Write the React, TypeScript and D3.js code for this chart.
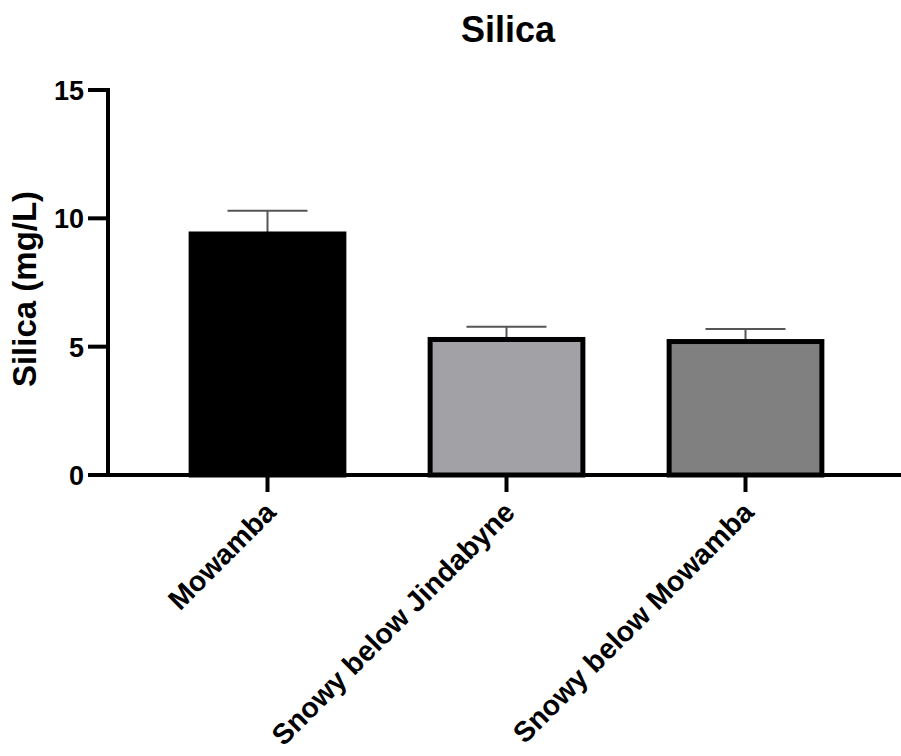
import React from "react";
import * as d3 from "d3";

const categories = ["Mowamba", "Snowy below Jindabyne", "Snowy below Mowamba"];
const means = [9.39, 5.28, 5.2];
const sds = [0.91, 0.5, 0.49];
const fills = ["#000000", "#a2a2a6", "#808080"];
const yTicks = [0, 5, 10, 15];

const W = 901;
const H = 756;
const FONT = "Arial, 'Liberation Sans', Helvetica, sans-serif";

export default function App() {
  const y = d3.scaleLinear().domain([0, 15]).range([475, 90]);
  const x = d3
    .scaleBand<string>()
    .domain(categories)
    .range([148, 865])
    .paddingInner(0.34)
    .paddingOuter(0.17);
  const bw = x.bandwidth();
  const sw = 5;
  const capW = 80;
  const axisX = 108;
  const axisY = y(0);

  return (
    <svg
      width={W}
      height={H}
      style={{ position: "absolute", left: 0, top: 0, background: "#fff" }}
      fontFamily={FONT}
    >
      <rect x={0} y={0} width={W} height={H} fill="#fff" />
      {/* title */}
      <text x={508} y={42} textAnchor="middle" fontSize={36} fontWeight="bold" fill="#000">
        Silica
      </text>
      {/* y title */}
      <text
        transform={`translate(36, 289) rotate(-90)`}
        textAnchor="middle"
        fontSize={33}
        fontWeight="bold"
        fill="#000"
      >
        Silica (mg/L)
      </text>

      {/* bars */}
      {categories.map((c, i) => {
        const x0 = x(c)!;
        const top = y(means[i]);
        const errTop = y(means[i] + sds[i]);
        const cx = x0 + bw / 2;
        return (
          <g key={c}>
            <line x1={cx} x2={cx} y1={top} y2={errTop} stroke="#555" strokeWidth={2} />
            <line x1={cx - capW / 2} x2={cx + capW / 2} y1={errTop} y2={errTop} stroke="#555" strokeWidth={2} />
            <rect
              x={x0 + sw / 2}
              y={top}
              width={bw - sw}
              height={axisY - top}
              fill={fills[i]}
              stroke="#000"
              strokeWidth={sw}
            />
          </g>
        );
      })}

      {/* y axis */}
      <line x1={axisX} x2={axisX} y1={y(15) - 2} y2={axisY + 2} stroke="#000" strokeWidth={4} />
      {yTicks.map((t) => (
        <g key={t}>
          <line x1={88} x2={axisX} y1={y(t)} y2={y(t)} stroke="#000" strokeWidth={4} />
          <text x={84} y={y(t) + 10} textAnchor="end" fontSize={27} fontWeight="bold" fill="#000">
            {t}
          </text>
        </g>
      ))}

      {/* x axis */}
      <line x1={axisX - 2} x2={W} y1={axisY} y2={axisY} stroke="#000" strokeWidth={4} />
      {categories.map((c) => {
        const cx = x(c)! + bw / 2;
        return (
          <g key={c}>
            <line x1={cx} x2={cx} y1={axisY} y2={492} stroke="#000" strokeWidth={4} />
            <text
              transform={`translate(${cx + 10}, 514) rotate(-45)`}
              textAnchor="end"
              fontSize={28.5}
              fontWeight="bold"
              fill="#000"
            >
              {c}
            </text>
          </g>
        );
      })}
    </svg>
  );
}
